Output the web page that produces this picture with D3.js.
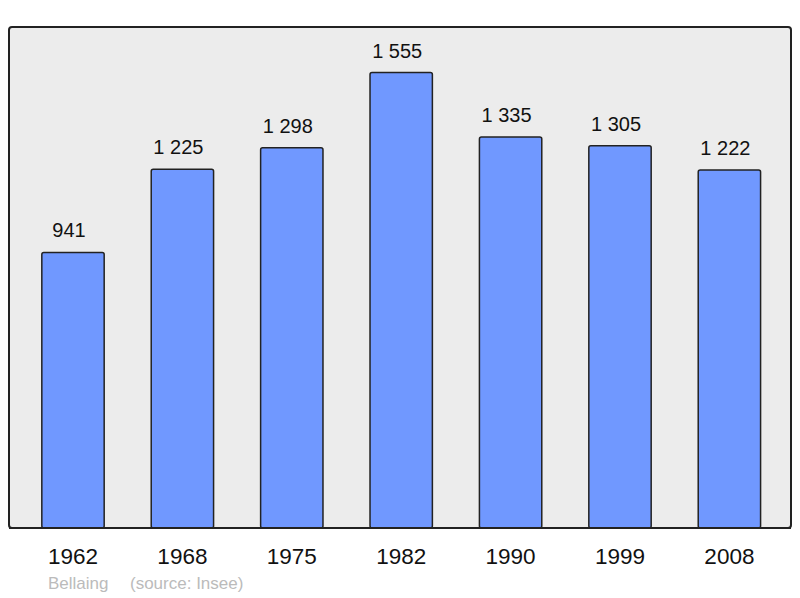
<!DOCTYPE html>
<html><head><meta charset="utf-8">
<script src="https://cdn.jsdelivr.net/npm/d3@7"></script>
<style>body{margin:0;background:#fff}svg{display:block;font-family:"Liberation Sans",Arial,sans-serif}</style>
</head><body>
<svg id="c" width="800" height="598"></svg>
<script>
const years = ["1962","1968","1975","1982","1990","1999","2008"];
const population = [941,1225,1298,1555,1335,1305,1222];
const valueLabels = ["941","1 225","1 298","1 555","1 335","1 305","1 222"];
const caption = ["Bellaing", "(source: Insee)"];

const svg = d3.select("#c");
const frame = {x0: 9, y0: 27, x1: 791, y1: 528};

svg.append("rect").attr("x", frame.x0).attr("y", frame.y0)
  .attr("width", frame.x1 - frame.x0).attr("height", frame.y1 - frame.y0)
  .attr("rx", 3).attr("fill", "#ececec").attr("stroke", "#222").attr("stroke-width", 2);

const x = d3.scaleBand().domain(years).range([18.3, 784.1]).paddingInner(0.43).paddingOuter(0.215);
const y = d3.scaleLinear().domain([0, d3.max(population) * 1.1]).range([frame.y1, frame.y0]);

const g = svg.append("g");
g.selectAll("rect.bar").data(years).join("rect").attr("class","bar")
  .attr("x", d => x(d)).attr("width", x.bandwidth())
  .attr("y", (d,i) => y(population[i])).attr("height", (d,i) => frame.y1 - y(population[i]))
  .attr("rx", 2).attr("fill", "#7098ff").attr("stroke", "#222").attr("stroke-width", 1.5);

g.selectAll("text.val").data(years).join("text").attr("class","val")
  .attr("x", d => x(d) + x.bandwidth()/2 - 4)
  .attr("y", (d,i) => y(population[i]) - 15)
  .attr("text-anchor","middle").attr("font-size", 20).attr("fill","#111")
  .text((d,i) => valueLabels[i]);

svg.append("line").attr("x1", frame.x0).attr("x2", frame.x1).attr("y1", frame.y1).attr("y2", frame.y1)
  .attr("stroke","#222").attr("stroke-width",2);

const axis = d3.axisBottom(x).tickSize(0).tickPadding(0);
const ax = svg.append("g").attr("transform", `translate(0,${frame.y1})`).call(axis);
ax.select(".domain").remove();
ax.selectAll("text").attr("font-size", 22.5).attr("fill", "#111")
  .attr("font-family", '"Liberation Sans",Arial,sans-serif').attr("dy", null).attr("y", 36);

svg.append("text").attr("x", 48).attr("y", 589).attr("font-size", 17).attr("fill", "#bbb").text(caption[0]);
svg.append("text").attr("x", 130).attr("y", 589).attr("font-size", 17).attr("fill", "#bbb").text(caption[1]);
</script>
</body></html>
